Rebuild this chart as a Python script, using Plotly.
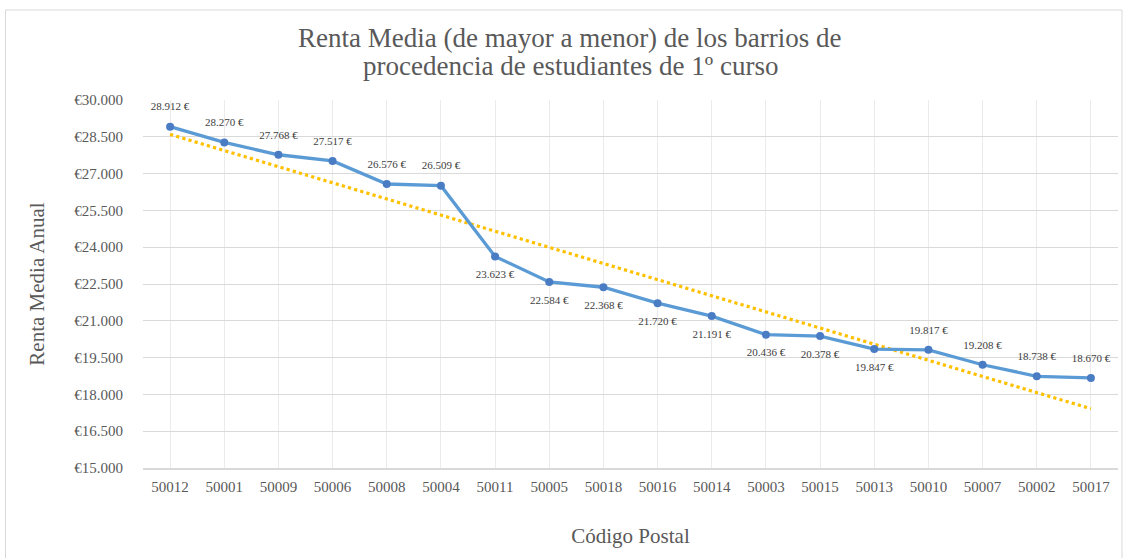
import plotly.graph_objects as go
import numpy as np

# Data
codigos = ["50012", "50001", "50009", "50006", "50008", "50004", "50011", "50005", "50018",
           "50016", "50014", "50003", "50015", "50013", "50010", "50007", "50002", "50017"]
renta = [28912, 28270, 27768, 27517, 26576, 26509, 23623, 22584, 22368,
         21720, 21191, 20436, 20378, 19847, 19817, 19208, 18738, 18670]
label_pos = ["top center"] * 6 + ["bottom center"] * 8 + ["top center"] * 4

title_lines = ["Renta Media (de mayor a menor) de los barrios de",
               "procedencia de estudiantes de 1º curso"]

# linear trendline (same as Excel's)
idx = np.arange(len(renta))
slope, intercept = np.polyfit(idx, renta, 1)
trend = slope * idx + intercept

FONT = "Liberation Serif"
GREY = "#595959"

fig = go.Figure()

fig.add_trace(go.Scatter(
    x=codigos, y=trend,
    mode="lines",
    line=dict(color="#FFC000", width=3.2, dash="dot"),
    hoverinfo="skip",
    showlegend=False
))

fig.add_trace(go.Scatter(
    x=codigos, y=renta,
    mode="lines+markers",
    line=dict(color="#5B9BD5", width=3.3),
    marker=dict(size=8, color="#4A7CC4"),
    hovertemplate="%{x}: %{y:,d} €<extra></extra>",
    showlegend=False
))

# data labels: invisible bigger markers push the text away from the points
fig.add_trace(go.Scatter(
    x=codigos, y=renta,
    mode="markers+text",
    marker=dict(size=20, opacity=0),
    text=renta,
    texttemplate="%{y:,d} €",
    textposition=label_pos,
    textfont=dict(family=FONT, size=11, color="#404040"),
    hoverinfo="skip",
    showlegend=False
))

# outer chart border
fig.add_shape(type="rect", xref="paper", yref="paper",
              x0=(5.5 - 143) / 975, x1=(1122 - 143) / 975,
              y0=-0.3, y1=(468 - 10) / 368,
              line=dict(color="#D9D9D9", width=1), layer="below")

# two-line title, Excel-style tight line spacing
for line, ypix in zip(title_lines, [38, 66]):
    fig.add_annotation(
        text=line, xref="paper", yref="paper",
        x=(570 - 143) / 975, y=(468 - ypix) / 368,
        xanchor="center", yanchor="middle", showarrow=False,
        font=dict(family=FONT, size=27, color=GREY)
    )

fig.update_layout(
    width=1126, height=558,
    margin=dict(l=143, r=8, t=100, b=90),
    paper_bgcolor="white", plot_bgcolor="white",
    separators=",.",
    font=dict(family=FONT, size=15, color=GREY),
    xaxis=dict(
        type="category", automargin=False, range=[-0.5, len(codigos) - 0.5],
        showgrid=True, gridcolor="#EBEBEB", gridwidth=1,
        showline=True, linecolor="#D9D9D9", linewidth=1.5,
        ticks="outside", ticklen=4, tickcolor="rgba(0,0,0,0)",
        tickfont=dict(family=FONT, size=15, color=GREY),
        title=dict(text="Código Postal", standoff=35,
                   font=dict(family=FONT, size=21, color=GREY)),
        zeroline=False
    ),
    yaxis=dict(
        range=[15000, 30000], tick0=15000, dtick=1500, automargin=False,
        tickprefix="€", tickformat=",d",
        showgrid=True, gridcolor="#D9D9D9", gridwidth=1,
        zeroline=False, showline=False,
        ticks="outside", ticklen=16, tickcolor="rgba(0,0,0,0)",
        tickfont=dict(family=FONT, size=15, color=GREY),
        title=dict(text="Renta Media Anual", standoff=23,
                   font=dict(family=FONT, size=21, color=GREY))
    )
)

# the page body has a default 8px margin; remove it so the figure sits at 0,0
fig.write_html("out.html", config={"displayModeBar": False},
               post_script="document.body.style.margin='0';")
